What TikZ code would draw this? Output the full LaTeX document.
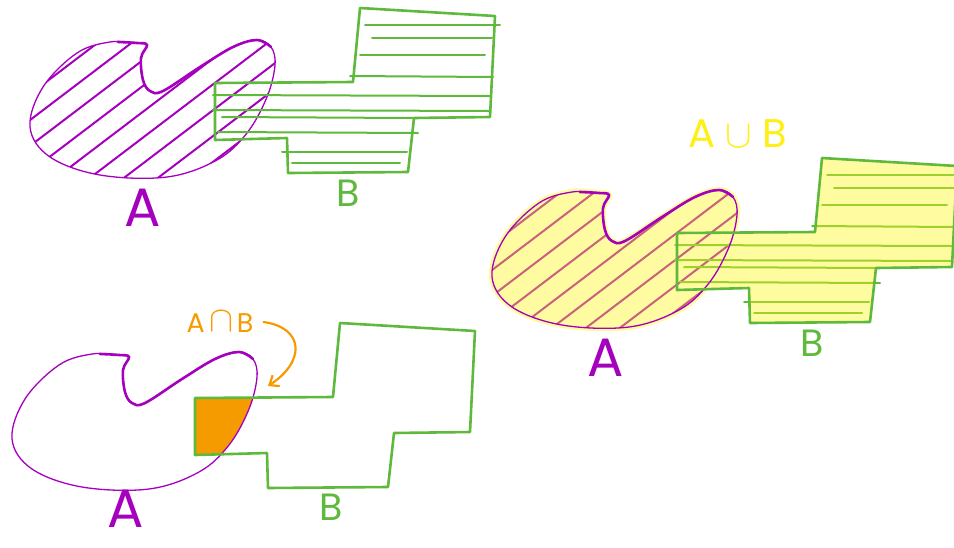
\documentclass[tikz,border=0pt]{standalone}
\usepackage{fontspec}
\newfontfamily\hand{Poppins}
\usetikzlibrary{arrows.meta}
\definecolor{apurple}{RGB}{165,0,190}
\definecolor{bgreen}{RGB}{95,185,60}
\definecolor{iorange}{RGB}{245,155,0}
\definecolor{uyellow}{RGB}{255,245,20}
\newcommand\blobA{plot[smooth cycle, tension=0.6] coordinates {(110,42) (137,43) (147,45) (141,58) (143,80) (150,91) (163,91) (200,67) (233,47) (257,40) (271,47) (275,65) (267,97) (247,133) (217,160) (167,177) (100,175) (50,157) (30,127) (43,87) (77,53)}}
\newcommand\notchA{plot[smooth, tension=0.6] coordinates {(118,42) (137,43) (147,45) (141,58) (143,80) (150,91) (163,91) (200,67) (233,47) (257,40) (271,47)}}
\newcommand\shapeB{(215,83) -- (353,82) -- (360,8) -- (495,16) -- (490,117) -- (414,118) -- (408,172) -- (288,173) -- (287,138) -- (215,140) -- cycle}
\tikzset{
  aline/.style={apurple, line width=1.3pt},
  anotch/.style={apurple, line width=2.6pt, line cap=round},
  ahatch/.style={apurple, line width=2pt, line cap=round},
  bline/.style={bgreen, line width=2.6pt, line join=round},
  bhatch/.style={bgreen, line width=2pt, line cap=round},
  bigA/.style={apurple, font=\hand\fontsize{54}{54}\selectfont, inner sep=0pt, text height=38pt, text depth=0pt},
  bigB/.style={bgreen, font=\hand\fontsize{38}{38}\selectfont, inner sep=0pt},
}
\newcommand\hatchA{\begin{scope}\clip \blobA; \foreach \x in {-130,-96,...,300} {\draw[ahatch] (\x,190) -- ++(250,-190);}\end{scope}}
\newcommand\hatchB{%
  \draw[bhatch] (365,25) -- (500,25);
  \draw[bhatch] (372,38) -- (492,38);
  \draw[bhatch] (360,55) -- (485,55);
  \draw[bhatch] (350,76) -- (493,77);
  \draw[bhatch] (213,95) -- (490,96);
  \draw[bhatch] (213,110) -- (490,111);
  \draw[bhatch] (222,117) -- (413,118);
  \draw[bhatch] (218,132) -- (418,133);
  \draw[bhatch] (282,152) -- (407,152);
  \draw[bhatch] (292,163) -- (400,163);}
\begin{document}
\begin{tikzpicture}[x=1pt,y=-1pt]
\useasboundingbox (0,0) rectangle (954,547);
% ---------- top-left: A and B ----------
\hatchA
\draw[aline] \blobA;
\draw[anotch] \notchA;
\draw[bline] \shapeB;
\hatchB
\node[bigA] (lA1) at (143,207) {A};
\node[bigB] (lB1) at (348,193) {B};
% ---------- right: A union B ----------
\begin{scope}[shift={(462,150)}]
  \hatchA
  \hatchB
  \begin{scope}[transparency group, opacity=0.4]
    \fill[uyellow] \blobA;
    \fill[uyellow] \shapeB;
    \draw[uyellow, line width=6pt, line join=round] \blobA;
  \end{scope}
  \draw[aline] \blobA;
  \draw[anotch] \notchA;
  \draw[bline] \shapeB;
\end{scope}
\node[bigA] (lA2) at (606,357) {A};
\node[bigB] (lB2) at (812,343) {B};
\node[uyellow!95!orange, font=\hand\fontsize{40}{40}\selectfont, inner sep=0pt] (lU) at (738,134) {A\hspace{10pt}\raisebox{0.5pt}{\scalebox{1.6}{$\cup$}}\hspace{10pt}B};
% ---------- bottom-left: A intersect B ----------
\begin{scope}[shift={(-18,312)}]
  \begin{scope}
    \clip \blobA;
    \fill[iorange, shift={(-2,3)}] \shapeB;
  \end{scope}
  \draw[aline] \blobA;
  \draw[anotch] \notchA;
\end{scope}
\begin{scope}[shift={(-20,315)}]
  \draw[bline] \shapeB;
\end{scope}
\node[bigA] (lA3) at (126,508) {A};
\node[bigB] (lB3) at (331,507) {B};
\node[iorange, font=\hand\fontsize{27}{27}\selectfont, inner sep=0pt] (lI) at (220,322) {A\hspace{5pt}\raisebox{0.5pt}{\scalebox{1.45}{$\cap$}}\hspace{3pt}B};
\coordinate (tip) at (268,386);
\draw[iorange, line width=2.2pt, line cap=round, -{Straight Barb[length=8pt,width=13pt]}] ([xshift=10pt]lI.east) .. controls (305,328) and (305,362) .. (tip);
\end{tikzpicture}
\end{document}
